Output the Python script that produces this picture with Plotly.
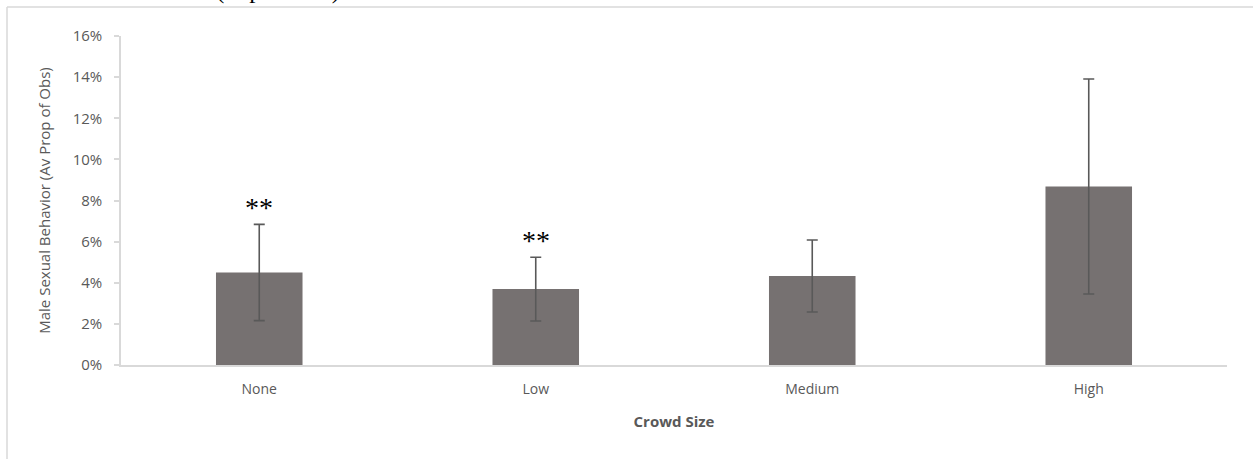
import plotly.graph_objects as go

# Mean proportion of observations (%) with male sexual behavior, by crowd size
crowd_sizes = ["None", "Low", "Medium", "High"]
mean_pct = [4.50, 3.69, 4.33, 8.68]
err_pct = [2.34, 1.55, 1.75, 5.23]
sig_marks = ["**", "**", "", ""]

y_ticks = [0, 2, 4, 6, 8, 10, 12, 14, 16]

W, H = 1253, 459
L, R, T, B = 121, 26, 36, 94
plot_w = W - L - R
plot_h = H - T - B


def px_x(px):
    return (px - L) / plot_w


def px_y(py):
    return (H - B - py) / plot_h


means = [v / 100 for v in mean_pct]
errs = [v / 100 for v in err_pct]

fig = go.Figure()
fig.add_trace(go.Bar(
    x=crowd_sizes,
    y=means,
    marker=dict(color="#767171", line=dict(width=0)),
    error_y=dict(type="data", array=errs, visible=True,
                 color="#595959", thickness=1.6, width=5.5),
    hoverinfo="skip",
))

for cat, m, e, s in zip(crowd_sizes, means, errs, sig_marks):
    if s:
        fig.add_annotation(
            x=cat, y=m + e, xref="x", yref="y",
            text=s, showarrow=False, yanchor="bottom", yshift=-1,
            font=dict(family="Liberation Serif", size=28, color="#000000"),
        )

# Caption line above the chart frame
fig.add_annotation(
    x=px_x(214), y=px_y(6), xref="paper", yref="paper",
    xanchor="left", yanchor="bottom", showarrow=False,
    text="(**p ≤ 0.01)",
    font=dict(family="Liberation Serif", size=25, color="#000000"),
)

# Chart frame (left and top edges)
frame = dict(color="#d9d9d9", width=1.5)
fig.add_shape(type="line", xref="paper", yref="paper",
              x0=px_x(7), x1=px_x(7), y0=px_y(7), y1=px_y(480), line=frame)
fig.add_shape(type="line", xref="paper", yref="paper",
              x0=px_x(7), x1=px_x(1270), y0=px_y(7), y1=px_y(7), line=frame)

x_tick_font = dict(family="Open Sans", size=14, color="#595959")
y_tick_font = dict(family="Open Sans", size=15, color="#595959")

fig.update_layout(
    width=W, height=H,
    margin=dict(l=L, r=R, t=T, b=B, pad=0),
    paper_bgcolor="white", plot_bgcolor="white",
    bargap=0.687,
    showlegend=False,
    xaxis=dict(
        showline=True, linecolor="#d9d9d9", linewidth=1.5,
        showgrid=False, ticks="", tickfont=x_tick_font,
        ticklabelstandoff=10,
        title=dict(text="<b>Crowd Size</b>", standoff=20,
                   font=dict(family="Open Sans", size=15, color="#595959")),
    ),
    yaxis=dict(
        range=[0, 0.16], tickvals=[v / 100 for v in y_ticks],
        ticktext=[f"{v}%" for v in y_ticks],
        showline=True, linecolor="#d9d9d9", linewidth=1.5,
        ticks="outside", ticklen=5, tickcolor="#d9d9d9", tickwidth=1.5,
        showgrid=False, zeroline=False, tickfont=y_tick_font,
        ticklabelstandoff=9,
        title=dict(text="Male Sexual Behavior (Av Prop of Obs)", standoff=18,
                   font=dict(family="Open Sans", size=15, color="#595959")),
    ),
)

fig.write_html("out.html")
